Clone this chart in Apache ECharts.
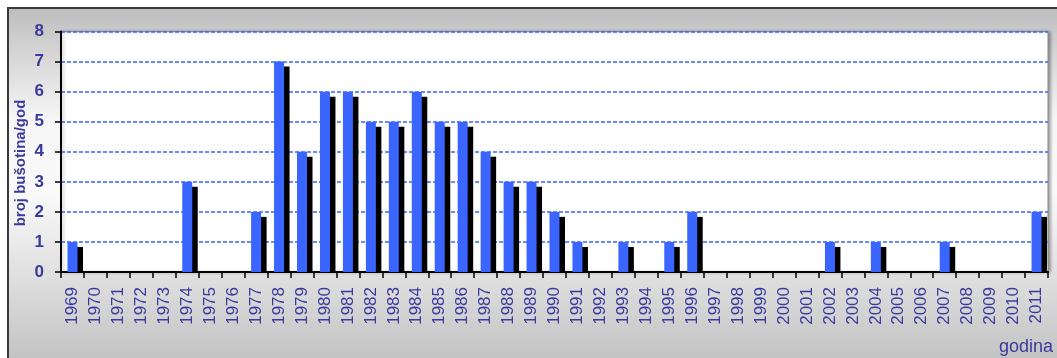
<!DOCTYPE html>
<html>
<head>
<meta charset="utf-8">
<script src="https://cdn.jsdelivr.net/npm/echarts@6/dist/echarts.min.js"></script>
<style>
html,body{margin:0;padding:0;background:#fff;}
#c{width:1057px;height:358px;}
</style>
</head>
<body>
<div id="c"></div>
<script>
const years = ['1969','1970','1971','1972','1973','1974','1975','1976','1977','1978','1979','1980','1981','1982','1983','1984','1985','1986','1987','1988','1989','1990','1991','1992','1993','1994','1995','1996','1997','1998','1999','2000','2001','2002','2003','2004','2005','2006','2007','2008','2009','2010','2011'];
const wells = [1,0,0,0,0,3,0,0,2,7,4,6,6,5,5,6,5,5,4,3,3,2,1,0,1,0,1,2,0,0,0,0,0,1,0,1,0,0,1,0,0,0,2];
const yTicks = [0,1,2,3,4,5,6,7,8];
const yName = 'broj bušotina/god';
const xName = 'godina';

const chart = echarts.init(document.getElementById('c'), null, {renderer:'canvas'});
const txt = '#3a3a9e';
const font = '"Liberation Sans", Arial, sans-serif';

chart.setOption({
  animation:false,
  backgroundColor:'#ffffff',
  graphic:[
    {type:'rect', z:-10, shape:{x:8,y:8,width:1070,height:370},
     style:{fill:new echarts.graphic.LinearGradient(0,0,0,1,[
       {offset:0,color:'#bdbdbd'},{offset:0.3,color:'#f6f6f6'},{offset:0.5,color:'#fafafa'},{offset:0.75,color:'#dcdcdc'},{offset:1,color:'#bcbcbc'}]),
       stroke:'#3a3a3a', lineWidth:2}},
    {type:'text', z:10, x:21, y:163, rotation:Math.PI/2,
     style:{text:yName, fill:txt, font:'bold 15px '+font, align:'center', verticalAlign:'middle'}},
    {type:'text', z:10, x:1053, y:347,
     style:{text:xName, fill:txt, font:'18px '+font, align:'right', verticalAlign:'middle'}}
  ],
  grid:{left:61, right:9, top:31.5, bottom:86, show:true, backgroundColor:'#ffffff',
        borderColor:'#8a8a8a', borderWidth:1,
        shadowColor:'rgba(0,0,0,0.35)', shadowBlur:3, shadowOffsetX:2, shadowOffsetY:0},
  xAxis:{type:'category', data:years, boundaryGap:true,
    axisLine:{show:true, lineStyle:{color:'#000', width:2}},
    axisTick:{show:true, interval:0, length:6, alignWithLabel:false, lineStyle:{color:'#000', width:1.5}},
    axisLabel:{interval:0, rotate:90, margin:15, color:txt, fontSize:17, fontFamily:font},
    splitLine:{show:false}},
  yAxis:{type:'value', min:yTicks[0], max:yTicks[yTicks.length-1], interval:1,
    axisLine:{show:true, lineStyle:{color:'#000', width:2}},
    axisTick:{show:true, length:6, lineStyle:{color:'#000', width:1.5}},
    axisLabel:{margin:17, color:txt, fontSize:17, fontWeight:'bold', fontFamily:font},
    splitLine:{show:true, lineStyle:{color:'#3a66ff', width:1.5, type:[4,2]}}},
  series:[{
    type:'custom',
    data:wells.map((v,i)=>[i,v]),
    encode:{x:0,y:1},
    clip:false,
    renderItem:function(params, api){
      const v = api.value(1);
      if(!v) return null;
      const top = api.coord([api.value(0), v]);
      const base = api.coord([api.value(0), 0]);
      const bw = 10, off = 5.5, dy = 5;
      const x = top[0]-bw/2;
      const h = base[1]-top[1];
      return {type:'group', children:[
        {type:'rect', shape:{x:x+off, y:top[1]+dy, width:bw, height:h-dy}, style:{fill:'#000'}},
        {type:'rect', shape:{x:x, y:top[1], width:bw, height:h}, style:{fill:'#3a66ff'}}
      ]};
    },
    z:3
  }]
});
</script>
</body>
</html>
